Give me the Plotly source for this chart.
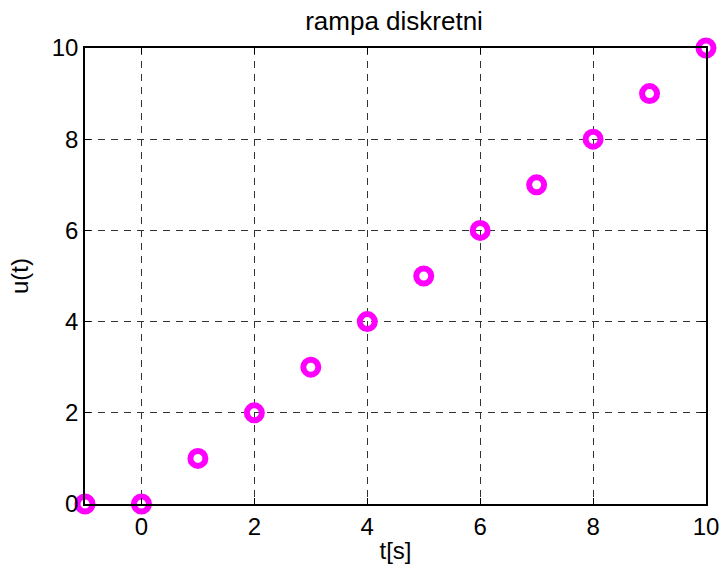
import plotly.graph_objects as go

t = [-1, 0, 1, 2, 3, 4, 5, 6, 7, 8, 9, 10]
u = [0, 0, 1, 2, 3, 4, 5, 6, 7, 8, 9, 10]
x_ticks = [0, 2, 4, 6, 8, 10]
y_ticks = [0, 2, 4, 6, 8, 10]

fig = go.Figure()
fig.add_trace(go.Scatter(
    x=t, y=u, mode="markers",
    marker=dict(symbol="circle-open", size=15, color="#FF00FF",
                line=dict(width=6, color="#FF00FF")),
    cliponaxis=False, showlegend=False,
))

font = "Liberation Sans, Arial, sans-serif"
axis_common = dict(
    showline=True, linecolor="black", linewidth=1.5, mirror="allticks",
    ticks="inside", ticklen=6, tickcolor="black", tickwidth=1.2,
    showgrid=True, gridcolor="#333333", gridwidth=1, griddash="7px,6px",
    zeroline=False, tickfont=dict(family=font, size=24, color="black"),
    automargin=False,
)
fig.update_xaxes(range=[-1, 10], tickvals=x_ticks, ticktext=[str(v) for v in x_ticks],
                 title=dict(text="t[s]", font=dict(family=font, size=24, color="black"), standoff=4),
                 **axis_common)
fig.update_yaxes(range=[0, 10], tickvals=y_ticks, ticktext=[str(v) for v in y_ticks],
                 title=dict(text="u(t)", font=dict(family=font, size=24, color="black"), standoff=16),
                 **axis_common)
fig.update_layout(
    width=723, height=570,
    margin=dict(l=85, r=17, t=48, b=66),
    paper_bgcolor="white", plot_bgcolor="white",
    title=dict(text="rampa diskretni", x=0.545, xanchor="center", y=0.963, yanchor="middle",
               font=dict(family=font, size=26, color="black")),
)
fig.write_html("out.html")
